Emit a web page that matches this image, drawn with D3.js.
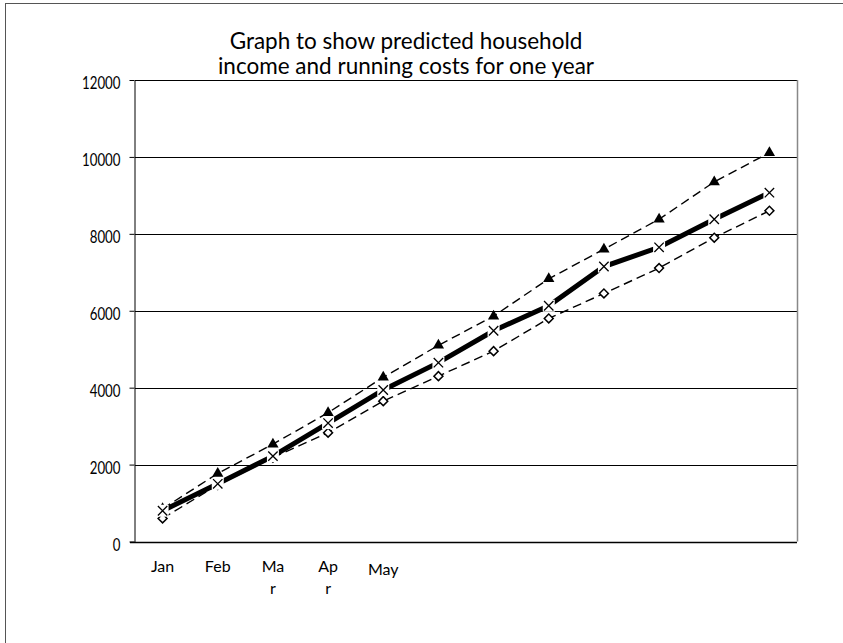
<!DOCTYPE html>
<html>
<head>
<meta charset="utf-8">
<script src="https://cdn.jsdelivr.net/npm/d3@7"></script>
<style>
    body { margin: 0; background: #fff; }
    svg { display: block; font-family: Lato, "Open Sans", sans-serif; }
</style>
</head>
<body>
<div id="chart"></div>
<script>
// Chart data
const months = ['Jan', 'Feb', 'Mar', 'Apr', 'May', 'Jun', 'Jul', 'Aug', 'Sep', 'Oct', 'Nov', 'Dec'];
// Only the first five labels are shown, wrapped the way the original wraps them
const monthLabels = [['Jan'], ['Feb'], ['Ma', 'r'], ['Ap', 'r'], ['May'], [], [], [], [], [], [], []];
const upperSeries = [850, 1770, 2530, 3350, 4270, 5100, 5860, 6830, 7600, 8380, 9350, 10110];  // triangles
const middleSeries = [800, 1500, 2220, 3080, 3940, 4650, 5480, 6130, 7150, 7650, 8380, 9070];  // crosses
const lowerSeries = [600, 1470, 2180, 2830, 3650, 4300, 4950, 5800, 6450, 7110, 7900, 8600];   // diamonds
const yTicks = [0, 2000, 4000, 6000, 8000, 10000, 12000];
const titleLines = ['Graph to show predicted household', 'income and running costs for one year'];

document.addEventListener('DOMContentLoaded', function () {
    const width = 843;
    const height = 643;
    const margin = { top: 80, right: 46, bottom: 101.5, left: 135 };

    const svg = d3.select('#chart')
        .append('svg')
        .attr('width', width)
        .attr('height', height);

    // Outer frame (runs off the right and bottom edges)
    svg.append('rect')
        .attr('x', 5.5)
        .attr('y', 3.5)
        .attr('width', 900)
        .attr('height', 700)
        .attr('fill', 'none')
        .attr('stroke', '#555')
        .attr('stroke-width', 1);

    const x = d3.scaleBand()
        .domain(months)
        .range([margin.left, width - margin.right]);

    const y = d3.scaleLinear()
        .domain([0, 12000])
        .range([height - margin.bottom, margin.top]);

    // Title
    svg.append('g')
        .selectAll('text')
        .data(titleLines)
        .join('text')
        .attr('x', 406)
        .attr('y', (d, i) => 49 + i * 25)
        .attr('text-anchor', 'middle')
        .attr('font-size', 22.5)
        .attr('fill', '#000')
        .text(d => d);

    // Gridlines
    svg.append('g')
        .selectAll('line')
        .data(yTicks.filter(d => d > 0))
        .join('line')
        .attr('x1', margin.left)
        .attr('x2', width - margin.right)
        .attr('y1', d => Math.round(y(d)) + 0.5)
        .attr('y2', d => Math.round(y(d)) + 0.5)
        .attr('stroke', '#000')
        .attr('stroke-width', 1);

    // Right border of plot area
    svg.append('line')
        .attr('x1', width - margin.right + 0.5)
        .attr('x2', width - margin.right + 0.5)
        .attr('y1', margin.top)
        .attr('y2', height - margin.bottom)
        .attr('stroke', '#888')
        .attr('stroke-width', 1.5);

    // Y axis (labels squeezed horizontally to match the narrow original face)
    const yAxis = svg.append('g')
        .attr('transform', `translate(${margin.left - 0.5},0)`)
        .call(d3.axisLeft(y).tickValues(yTicks).tickSize(5).tickSizeOuter(0).tickPadding(13).tickFormat(d3.format('d')));
    yAxis.select('.domain').attr('stroke', '#000');
    yAxis.selectAll('.tick line').attr('stroke', '#000');
    yAxis.selectAll('.tick text')
        .attr('font-size', 17)
        .attr('font-family', 'Lato, sans-serif')
        .attr('fill', '#000')
        .attr('dy', '0.5em')
        .attr('transform', 'scale(0.78,1)');

    // X axis baseline
    svg.append('line')
        .attr('x1', margin.left - 5)
        .attr('x2', width - margin.right)
        .attr('y1', Math.round(y(0)) + 0.5)
        .attr('y2', Math.round(y(0)) + 0.5)
        .attr('stroke', '#000')
        .attr('stroke-width', 1.5);

    // Month labels
    const labelGroups = svg.append('g')
        .selectAll('text')
        .data(months)
        .join('text')
        .attr('font-size', 16)
        .attr('fill', '#000')
        .attr('text-anchor', 'middle');
    labelGroups.each(function (d, i) {
        const lines = monthLabels[i];
        const offset = lines.length === 1 && i === 4 ? 3 : 0;
        d3.select(this).selectAll('tspan')
            .data(lines)
            .join('tspan')
            .attr('x', x(d) + x.bandwidth() / 2)
            .attr('y', (t, j) => 572 + offset + j * 22)
            .text(t => t);
    });

    const cx = d => x(d) + x.bandwidth() / 2;

    const line = d3.line()
        .x(d => cx(d.month))
        .y(d => y(d.value));

    const toPoints = values => months.map((m, i) => ({ month: m, value: values[i] }));
    const lowerPoints = toPoints(lowerSeries);
    const upperPoints = toPoints(upperSeries);
    const middlePoints = toPoints(middleSeries);

    // Lines
    svg.append('path')
        .datum(lowerPoints)
        .attr('d', line)
        .attr('fill', 'none')
        .attr('stroke', '#000')
        .attr('stroke-width', 1.4)
        .attr('stroke-dasharray', '9,5');

    svg.append('path')
        .datum(upperPoints)
        .attr('d', line)
        .attr('fill', 'none')
        .attr('stroke', '#000')
        .attr('stroke-width', 1.4)
        .attr('stroke-dasharray', '9,5');

    svg.append('path')
        .datum(middlePoints)
        .attr('d', line)
        .attr('fill', 'none')
        .attr('stroke', '#000')
        .attr('stroke-width', 5);

    // Diamond markers
    svg.append('g')
        .selectAll('path')
        .data(lowerPoints)
        .join('path')
        .attr('transform', d => `translate(${cx(d.month)},${y(d.value)}) rotate(45)`)
        .attr('d', d3.symbol(d3.symbolSquare, 40))
        .attr('fill', '#fff')
        .attr('stroke', '#000')
        .attr('stroke-width', 1.5);

    // Triangle markers
    svg.append('g')
        .selectAll('path')
        .data(upperPoints)
        .join('path')
        .attr('transform', d => `translate(${cx(d.month)},${y(d.value)})`)
        .attr('d', d3.symbol(d3.symbolTriangle, 55))
        .attr('fill', '#000');

    // Cross markers, each on a small white box
    const crosses = svg.append('g')
        .selectAll('g')
        .data(middlePoints)
        .join('g')
        .attr('transform', d => `translate(${cx(d.month)},${y(d.value)})`);
    crosses.append('rect')
        .attr('x', -6)
        .attr('y', -6)
        .attr('width', 12)
        .attr('height', 12)
        .attr('fill', '#fff');
    crosses.append('path')
        .attr('d', 'M-4.7,-4.7L4.7,4.7M-4.7,4.7L4.7,-4.7')
        .attr('stroke', '#000')
        .attr('stroke-width', 1.3)
        .attr('fill', 'none');
});
</script>
</body>
</html>
